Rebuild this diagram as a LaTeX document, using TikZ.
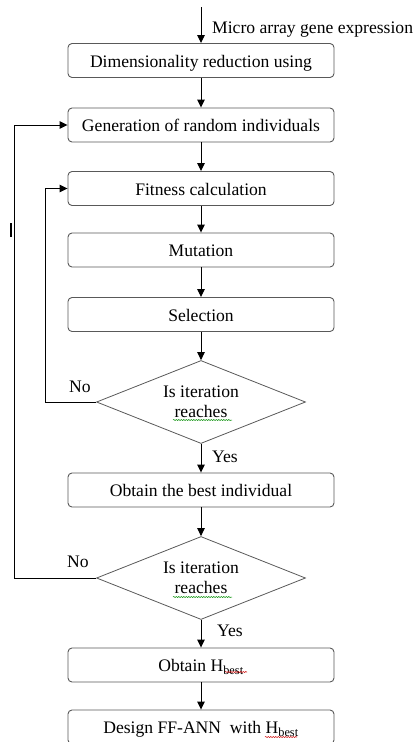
\documentclass[tikz,border=0pt]{standalone}
\usepackage{fontspec}
\setmainfont{Liberation Serif}
\usetikzlibrary{arrows.meta,shapes.geometric,decorations.pathmorphing}
\tikzset{>={Triangle[length=8pt,width=7.5pt]}}
\colorlet{boxColor}{black!65}
\colorlet{spellGreen}{green!55!black}
\colorlet{spellRed}{red!80!black}
\newcommand{\flowsize}{\fontsize{17.6}{20.5}\selectfont}
\tikzset{
  procbox/.style={draw=boxColor,line width=0.9pt,rounded corners=4pt,
    minimum width=266pt,minimum height=34pt,inner sep=0pt,
    text height=13pt,text depth=0pt},
  decision/.style={draw=boxColor,line width=0.8pt,diamond,aspect=2.5,
    minimum width=209pt,minimum height=83pt,inner sep=0pt,align=center},
  flow/.style={->,line width=1pt},
  squiggle/.style={decorate,decoration={snake,amplitude=0.6pt,segment length=2.5pt},line width=0.5pt},
  lbl/.style={anchor=base west,inner sep=0pt}
}

\begin{document}
\begin{tikzpicture}[x=1pt,y=-1pt,font=\flowsize]
				\useasboundingbox (0,0) rectangle (416,742);
				\clip (0,0) rectangle (416,742);
				\coordinate (in) at (201,7);
				\coordinate (back1) at (45,0);
				\coordinate (back2) at (14,0);
				
				\node[procbox] (dim) at (201,60.5) {Dimensionality reduction using};
				\node[procbox] (gen) at (201,125) {Generation of random individuals};
				\node[procbox] (fit) at (201,188.5) {Fitness calculation};
				\node[procbox] (mut) at (201,250) {Mutation};
				\node[procbox] (sel) at (201,314.5) {Selection};
				\node[decision] (it1) at (201,402) {Is iteration\\reaches};
				\node[procbox] (best) at (201,490) {Obtain the best individual};
				\node[decision] (it2) at (201,578) {Is iteration\\reaches};
				\node[procbox] (hbest) at (201,665) {Obtain H\textsubscript{best}};
				\node[procbox] (ann) at (201,727) {Design FF-ANN\ \ with H\textsubscript{best}};
				
				\node[lbl] (src) at (212,33) {Micro array gene expression};
				\node[lbl] (no1) at (69,392) {No};
				\node[lbl] (no2) at (67,567) {No};
				\node[lbl] (yes1) at (212,462) {Yes};
				\node[lbl] (yes2) at (217,636) {Yes};
				
				\draw[flow] (in) -- (dim);
				\foreach \a/\b in {dim/gen,gen/fit,fit/mut,mut/sel,sel/it1,it1/best,best/it2,it2/hbest,hbest/ann}
					\draw[flow] (\a) -- (\b);
				\draw[flow] (it1.west) -- (it1.west -| back1) |- (fit.west);
				\draw[flow] (it2.west) -- (it2.west -| back2) |- (gen.west);
				
				%\node at (11,230) {I};
				\draw[line width=1.6pt] (11,223) -- (11,237);
				\draw[squiggle,spellGreen] ([xshift=-28pt,yshift=-18pt]it1.center) -- ++(59,0);
				\draw[squiggle,spellGreen] ([xshift=-28pt,yshift=-19pt]it2.center) -- ++(59,0);
				\draw[squiggle,spellRed] (225,672) -- (247,672);
				\draw[squiggle,spellRed] (265,737) -- (297,737);
\end{tikzpicture}
\end{document}
